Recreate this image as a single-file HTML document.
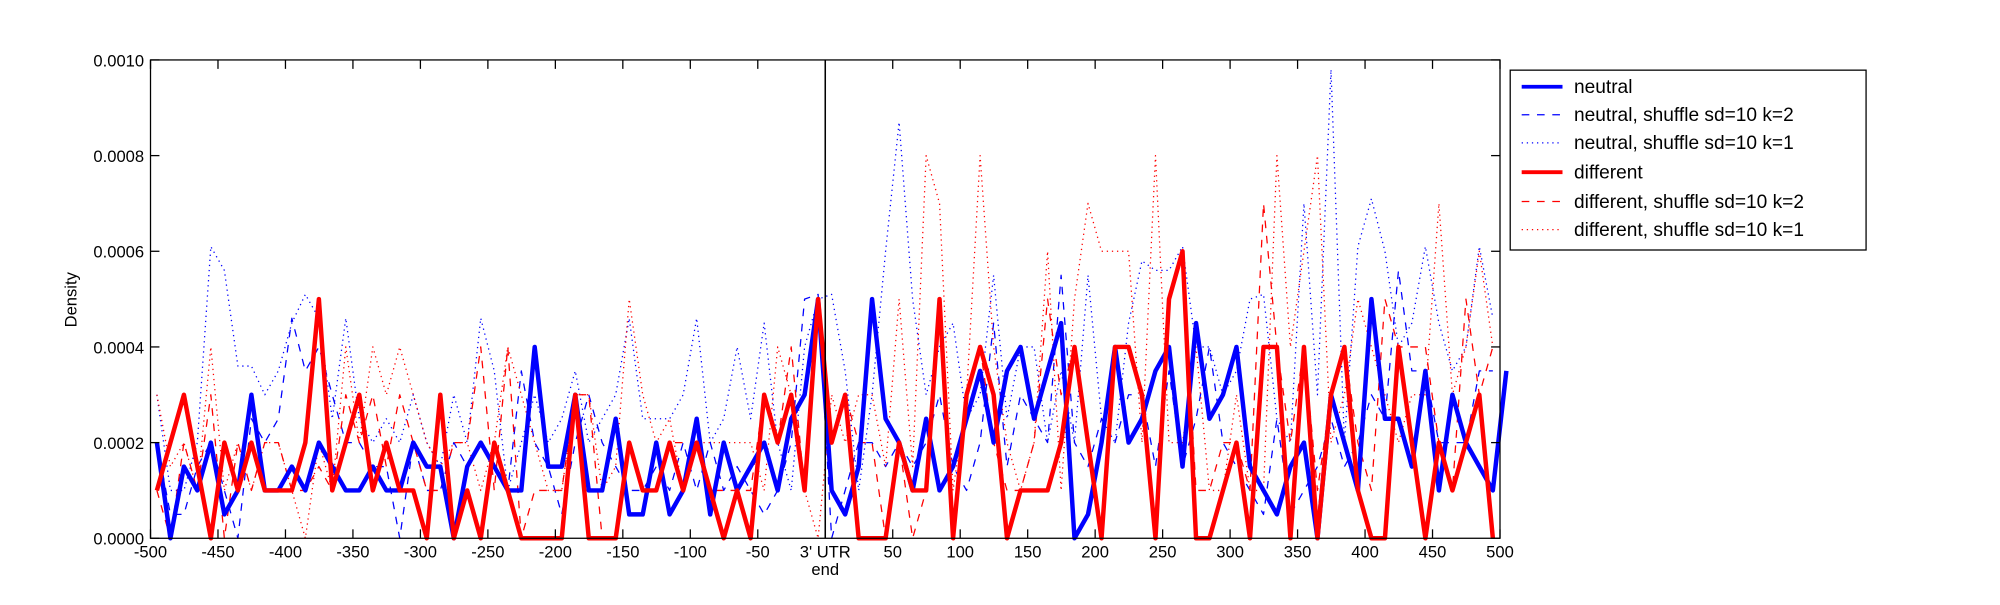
<!DOCTYPE html>
<html><head><style>
body{margin:0;background:#fff;}
svg text{font-family:"Liberation Sans","DejaVu Sans",sans-serif;}
</style></head><body>
<svg id="s" width="2000" height="600" viewBox="0 0 1568 470.4" xmlns="http://www.w3.org/2000/svg">
<rect width="1568" height="470.4" fill="#fff"/>
<g id="data"></g>
<rect x="118" y="47" width="1058" height="375" fill="none" stroke="#000" stroke-width="1"/>
<line x1="647" y1="47" x2="647" y2="422" stroke="#000" stroke-width="1.2"/>
<g id="ticks" stroke="#000"></g>
<g font-size="13" fill="#000" id="labels"></g>
<text x="60" y="235" font-size="13" text-anchor="middle" transform="rotate(-90 60 235)">Density</text>
<text x="647" y="451" font-size="13" text-anchor="middle">end</text>
<rect x="1184" y="55" width="279" height="141" fill="#fff" stroke="#000"/>
<g font-size="15">
<line x1="1193" y1="68" x2="1225" y2="68" stroke="#0000ff" stroke-width="3"/><text x="1234" y="73">neutral</text>
<line x1="1193" y1="90" x2="1225" y2="90" stroke="#0000ff" stroke-width="1" stroke-dasharray="6,6"/><text x="1234" y="95">neutral, shuffle sd=10 k=2</text>
<line x1="1193" y1="112" x2="1225" y2="112" stroke="#0000ff" stroke-width="1" stroke-dasharray="1,3"/><text x="1234" y="117">neutral, shuffle sd=10 k=1</text>
<line x1="1193" y1="135" x2="1225" y2="135" stroke="#ff0000" stroke-width="3"/><text x="1234" y="140">different</text>
<line x1="1193" y1="158" x2="1225" y2="158" stroke="#ff0000" stroke-width="1" stroke-dasharray="6,6"/><text x="1234" y="163">different, shuffle sd=10 k=2</text>
<line x1="1193" y1="180" x2="1225" y2="180" stroke="#ff0000" stroke-width="1" stroke-dasharray="1,3"/><text x="1234" y="185">different, shuffle sd=10 k=1</text>
</g>
</svg>
<script>
var NS="http://www.w3.org/2000/svg";
function el(t,a,p){var e=document.createElementNS(NS,t);for(var k in a)e.setAttribute(k,a[k]);p.appendChild(e);return e;}
var neutral=[2,0,1.5,1,2,0.5,1,3,1,1,1.5,1,2,1.5,1,1,1.5,1,1,2,1.5,1.5,0,1.5,2,1.5,1,1,4,1.5,1.5,3,1,1,2.5,0.5,0.5,2,0.5,1,2.5,0.5,2,1,1.5,2,1,2.5,3,5,1,0.5,1.5,5,2.5,2,1,2.5,1,1.5,2.5,3.5,2,3.5,4,2.5,3.5,4.5,0,0.5,2,4,2,2.5,3.5,4,1.5,4.5,2.5,3,4,1.5,1,0.5,1.5,2,0,3,2,1,5,2.5,2.5,1.5,3.5,1,3,2,1.5,1,3.5];
var diff=[1,2,3,1.5,0,2,1,2,1,1,1,2,5,1,2,3,1,2,1,1,0,3,0,1,0,2,1,0,0,0,0,3,0,0,0,2,1,1,2,1,2,1,0,1,0,3,2,3,1,5,2,3,0,0,0,2,1,1,5,0,3,4,3,0,1,1,1,2,4,2,0,4,4,3,0,5,6,0,0,1,2,0,4,4,0,4,0,3,4,1,0,0,4,2,0,2,1,2,3,0];
var bdot=[3,1,1,2,6.1,5.6,3.6,3.6,3,3.5,4.5,5.1,4.6,2.5,4.6,2.5,2,2.5,2,3,2,1.5,3,2,4.6,3.5,1,2,3,2,2.5,3.5,2,2.5,3,4.6,2.5,2.5,2.5,3,4.6,2,2.5,4,2.5,4.5,2,1,4,5,5.1,3.5,1,3,6,8.7,5,3,4,4.5,2.5,3,5.5,2.5,4,4,2,3.5,2,5.5,2.5,2,4.5,5.8,5.6,5.6,6.1,4,4,3,3.5,5,5.1,2.5,2,7,3,9.8,2,6.1,7.1,6,4,4.5,6.1,4.5,3.5,4,6.1,4.6];
var bdash=[2,0.5,0.5,1.5,2,1,0,2.5,2,2.5,4.6,3.5,4,3,2,2,1.5,1.5,0,2,1,1,2,1.5,2,1.5,1,3.5,2,1.5,0.5,2,3,2,1.5,1,1,1.5,1,2,1,2,1,1.5,1,0.5,1,2,5,5.1,0,1,2,2,1.5,2,1.5,2,3,1.5,1,2,4.5,1.5,3,2.5,2,5.5,2,1.5,2.5,2,3,3,1.5,3.5,1.5,2.5,4,2,1.5,1,0.5,2.5,0.5,1,1.5,2.5,1.5,2,3,2.5,5.6,3.5,3.5,2,2,2,3.5,3.5];
var rdot=[3,1.5,2,1,4,1,2,1,2,2,1,0,2,1,4,2,4,3,4,3,2,1.5,2,2,1,2,4,3,2,1,1,3,3,1,1.5,5,3,2,2.5,1,2,2,2,2,2,1,4,3,1,0,3,2,3,3,1.5,5,1.5,8,7,1,3,8,4,2,1,2,6,1,5,7,6,6,6,2,8,2,2,4,1,1,3,1,1,8,4,6,8,2,3,5,4,3,2,3,3,7,3,4,6,4];
var rdash=[1,0,2,1,3,0,2,1,2,2,1,1,1.5,1,3,2,3,1.5,3,2,1,1,2,2,4,1,4,0,1,1,1,3,3,0,0,2,1,1,2,2,2,1,1,1,1,3,2,4,1,5,2,3,2,2,0,2,0,1,5,0,3,4,2,1,1,2,5,3,4,2,0,4,4,3,0,5,6,1,1,2,2,1,7,4,2,4,1,3,4,2,1,5,4,4,4,2,1,5,3,4];
var g=document.getElementById("data");
function plot(d,c,w,da){var pts=d.map(function(v,i){return (123+i*10.58).toFixed(1)+","+(422-v*37.5).toFixed(1)}).join(" ");
 var a={points:pts,fill:"none",stroke:c,"stroke-width":w,"stroke-linejoin":"round"};if(da)a["stroke-dasharray"]=da;el("polyline",a,g);}
plot(bdot,"#0000ff",1,"1,3");plot(bdash,"#0000ff",1,"6,6");
plot(rdot,"#ff0000",1,"1,3");plot(rdash,"#ff0000",1,"6,6");
plot(neutral,"#0000ff",3.5);plot(diff,"#ff0000",3.5);
var t=document.getElementById("ticks"),L=document.getElementById("labels");
for(var v=-500;v<=500;v+=50){var x=647+v*1.058;
 el("line",{x1:x,y1:422,x2:x,y2:415},t);el("line",{x1:x,y1:47,x2:x,y2:54},t);
 var tx=el("text",{x:x,y:437,"text-anchor":"middle"},L);tx.textContent=v==0?"3' UTR":String(v);}
for(var k=0;k<=5;k++){var y=422-k*75;
 el("line",{x1:118,y1:y,x2:125,y2:y},t);el("line",{x1:1176,y1:y,x2:1169,y2:y},t);
 var ty=el("text",{x:113,y:y+5,"text-anchor":"end"},L);ty.textContent=(k*0.0002).toFixed(4);}
</script>
</body></html>
